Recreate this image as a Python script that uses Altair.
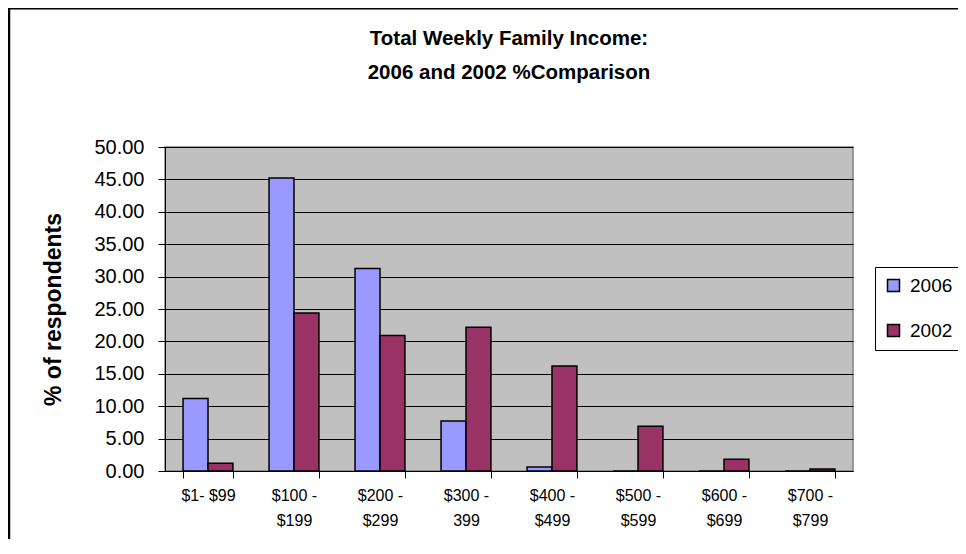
import altair as alt
import pandas as pd

categories = ["$1- $99", "$100 -|$199", "$200 -|$299", "$300 -|399",
              "$400 -|$499", "$500 -|$599", "$600 -|$699", "$700 -|$799"]
years = ["2006", "2002"]
v2006 = [11.2, 45.2, 31.25, 7.7, 0.6, 0.0, 0.0, 0.0]
v2002 = [1.2, 24.4, 20.9, 22.2, 16.2, 6.9, 1.8, 0.3]
colors = ["#9999FF", "#993366"]
y_ticks = [0, 5, 10, 15, 20, 25, 30, 35, 40, 45, 50]
title_text = "Total Weekly Family Income:\n2006 and 2002 %Comparison"

rows = []
for c, a, b in zip(categories, v2006, v2002):
    rows.append({"cat": c, "year": "2006", "val": a})
    rows.append({"cat": c, "year": "2002", "val": b})
df = pd.DataFrame(rows)

FONT = "Liberation Sans"

bars = alt.Chart(df).mark_bar(stroke="black", strokeWidth=1.5).encode(
    x=alt.X("cat:N", sort=categories,
            scale=alt.Scale(paddingInner=0.42, paddingOuter=0.21),
            axis=alt.Axis(title=None, labelAngle=0, tickBand="extent", tickSize=7,
                          labelFontSize=16, labelFont=FONT, labelColor="black",
                          labelLineHeight=25, labelPadding=9,
                          labelExpr="split(datum.label, '|')",
                          domainColor="black", tickColor="black", grid=False)),
    xOffset=alt.XOffset("year:N", sort=years, scale=alt.Scale(paddingInner=0, paddingOuter=0)),
    y=alt.Y("val:Q", scale=alt.Scale(domain=[0, 50], nice=False),
            axis=alt.Axis(values=y_ticks, format=".2f", labelFontSize=20, labelFont=FONT,
                          labelColor="black", tickSize=7, tickColor="black",
                          labelPadding=14, domainColor="black",
                          gridColor="black", gridWidth=1, gridOpacity=1,
                          title="% of respondents", titleFont=FONT, titleFontSize=23,
                          titleFontWeight="bold", titleColor="black",
                          titleX=-112, titleY=162, titleAngle=-90,
                          titleAlign="center", titleBaseline="middle")),
    color=alt.Color("year:N", sort=years,
                    scale=alt.Scale(domain=years, range=colors),
                    legend=alt.Legend(title=None, orient="none", legendX=710, legendY=120,
                                      strokeColor="black", fillColor="white", padding=9,
                                      symbolType="square", symbolSize=144,
                                      symbolStrokeColor="black", symbolStrokeWidth=1.5,
                                      symbolOpacity=1,
                                      labelFontSize=19, labelFont=FONT, labelColor="black",
                                      labelOffset=7, rowPadding=25, cornerRadius=0)),
)

frame_df = pd.DataFrame({"k": [0]})
left_line = alt.Chart(frame_df).mark_rule(color="black", strokeWidth=2.5).encode(
    x=alt.value(-156), y=alt.value(-139), y2=alt.value(420))
top_line = alt.Chart(frame_df).mark_rule(color="black", strokeWidth=3).encode(
    x=alt.value(-157), x2=alt.value(820), y=alt.value(-139))
title = alt.Chart(frame_df).mark_text(
    font=FONT, fontSize=20.5, fontWeight="bold", color="black",
    lineBreak="\n", lineHeight=34, align="center", baseline="middle",
).encode(x=alt.value(344), y=alt.value(-108), text=alt.value(title_text))

chart = alt.layer(bars, left_line, top_line, title).properties(
    width=688, height=324,
    autosize=alt.AutoSizeParams(type="none"),
    padding={"left": 157, "top": 139, "right": 105, "bottom": 68},
    background="white",
).configure_view(fill="#C0C0C0", stroke="#808080", strokeWidth=1.5)

chart.save("out.html", embed_options={"renderer": "svg", "actions": False})
